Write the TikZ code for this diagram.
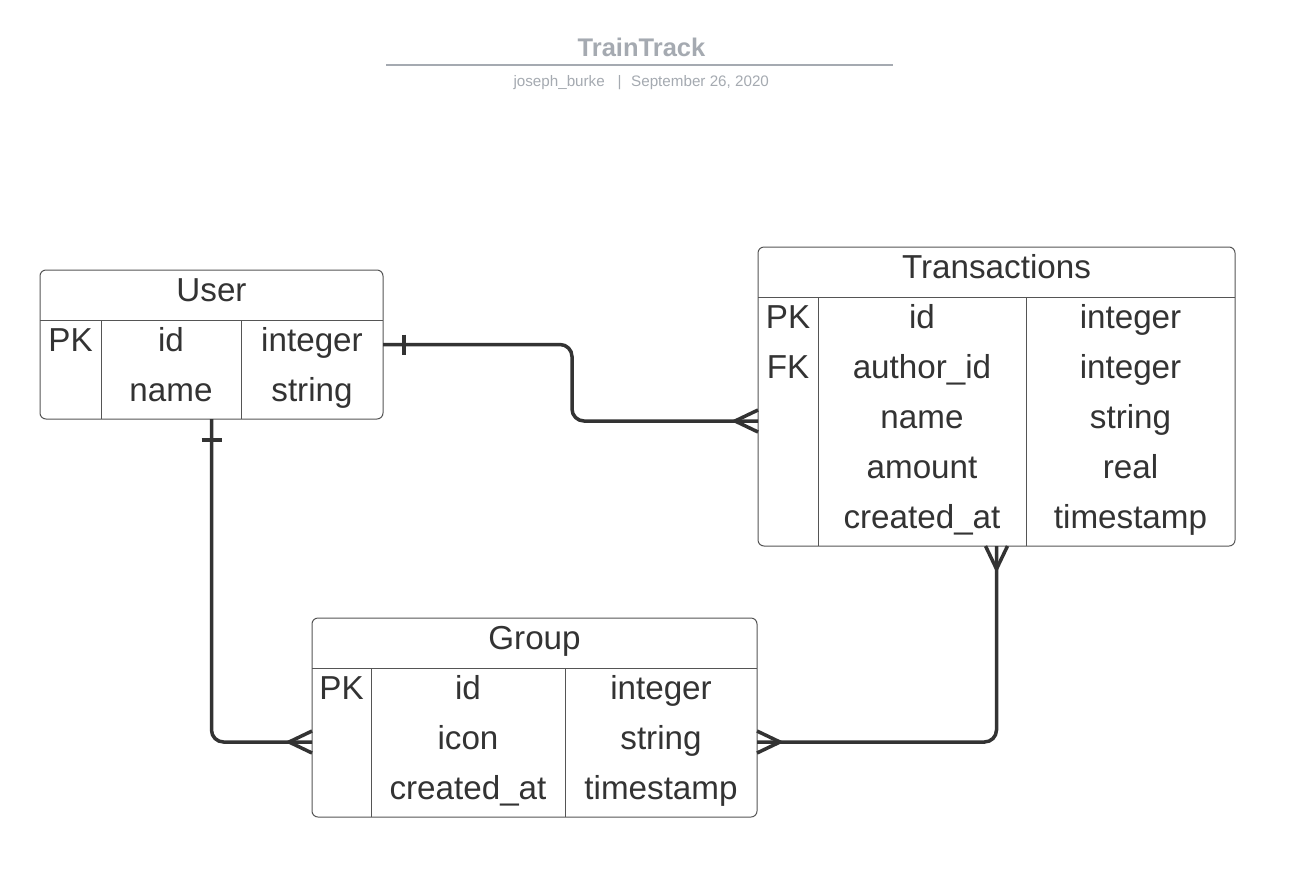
\documentclass[tikz,border=0pt]{standalone}
\usepackage{fontspec}
\setmainfont{Liberation Sans}
\usetikzlibrary{calc}
\definecolor{txtc}{HTML}{333333}
\definecolor{boxc}{HTML}{555555}
\definecolor{ttlc}{HTML}{A5AAB1}
\tikzset{
  tbl/.style={draw=boxc, line width=1pt, rounded corners=6pt, inner sep=0pt, outer sep=0pt, fill=white},
  grid/.style={draw=boxc, line width=1pt},
  txt/.style={anchor=base, inner sep=0pt, text=txtc, font=\fontsize{33.2}{38}\selectfont},
  conn/.style={draw=txtc, line width=3.5pt, rounded corners=12pt},
  foot/.style={draw=txtc, line width=3.5pt},
  ttl/.style={anchor=base, inner sep=0pt, text=ttlc}
}
\begin{document}
\begin{tikzpicture}[x=1pt,y=-1pt]
\useasboundingbox[fill=white] (0,0) rectangle (1306,876);

% title
\node[ttl, font=\bfseries\fontsize{25.5}{30}\selectfont] (title) at (641.5,56.5) {TrainTrack};
\draw[draw=ttlc, line width=2pt] (386,65.3) -- (892.5,65.3);
\node[ttl, anchor=base east, font=\fontsize{15.2}{18}\selectfont] (author) at (605,86.5) {joseph\_burke};
\node[ttl, font=\fontsize{15.2}{18}\selectfont] (sep) at (619.5,86.5) {|};
\node[ttl, anchor=base west, font=\fontsize{15.2}{18}\selectfont] (date) at (631,86.5) {September 26, 2020};

% User table
\node[tbl, minimum width=343pt, minimum height=149pt] (user) at (211.5,344.5) {};
\draw[grid] (40,320) -- (383,320);
\draw[grid] (101,320) -- (101,419);
\draw[grid] (241,320) -- (241,419);
\node[txt] (u-title) at (211.5,301) {User};
\node[txt] (u-pk) at (70.5,351) {PK};
\node[txt] (u-id) at (171,351) {id};
\node[txt] (u-idt) at (312,351) {integer};
\node[txt] (u-name) at (171,401) {name};
\node[txt] (u-namet) at (312,401) {string};

% Transactions table
\node[tbl, minimum width=477pt, minimum height=299pt] (trans) at (996.5,396.5) {};
\draw[grid] (758,297) -- (1235,297);
\draw[grid] (818,297) -- (818,546);
\draw[grid] (1026,297) -- (1026,546);
\node[txt] (t-title) at (996.5,278) {Transactions};
\node[txt] (t-pk) at (788,328) {PK};
\node[txt] (t-id) at (922,328) {id};
\node[txt] (t-idt) at (1130.5,328) {integer};
\node[txt] (t-fk) at (788,378) {FK};
\node[txt] (t-aid) at (922,378) {author\_id};
\node[txt] (t-aidt) at (1130.5,378) {integer};
\node[txt] (t-name) at (922,428) {name};
\node[txt] (t-namet) at (1130.5,428) {string};
\node[txt] (t-amt) at (922,478) {amount};
\node[txt] (t-amtt) at (1130.5,478) {real};
\node[txt] (t-cr) at (922,528) {created\_at};
\node[txt] (t-crt) at (1130.5,528) {timestamp};

% Group table
\node[tbl, minimum width=445pt, minimum height=199pt] (group) at (534.5,717.5) {};
\draw[grid] (312,668) -- (757,668);
\draw[grid] (371,668) -- (371,817);
\draw[grid] (565,668) -- (565,817);
\node[txt] (g-title) at (534.5,649) {Group};
\node[txt] (g-pk) at (341.5,699) {PK};
\node[txt] (g-id) at (468,699) {id};
\node[txt] (g-idt) at (661,699) {integer};
\node[txt] (g-icon) at (468,749) {icon};
\node[txt] (g-icont) at (661,749) {string};
\node[txt] (g-cr) at (468,799) {created\_at};
\node[txt] (g-crt) at (661,799) {timestamp};

% connectors
\draw[conn] (user.east) -- (572,344.5) -- (572,421) -- (trans.west |- 0,421);
\draw[conn] (user.south) |- (group.west |- 0,742);
\draw[conn] (group.east |- 0,742) -| (trans.south);

% one-bars
\draw[foot] ($(user.east)+(21,-10)$) -- ($(user.east)+(21,10)$);
\draw[foot] ($(user.south)+(-10,21)$) -- ($(user.south)+(10,21)$);

% crow's feet
\draw[foot] ($(trans.west |- 0,421)+(0,-11)$) -- ($(trans.west |- 0,421)+(-23,0)$) -- ($(trans.west |- 0,421)+(0,11)$);
\draw[foot] ($(group.west |- 0,742)+(0,-11)$) -- ($(group.west |- 0,742)+(-23,0)$) -- ($(group.west |- 0,742)+(0,11)$);
\draw[foot] ($(group.east |- 0,742)+(0,-11)$) -- ($(group.east |- 0,742)+(23,0)$) -- ($(group.east |- 0,742)+(0,11)$);
\draw[foot] ($(trans.south)+(-11,0)$) -- ($(trans.south)+(0,23)$) -- ($(trans.south)+(11,0)$);
\end{tikzpicture}
\end{document}
